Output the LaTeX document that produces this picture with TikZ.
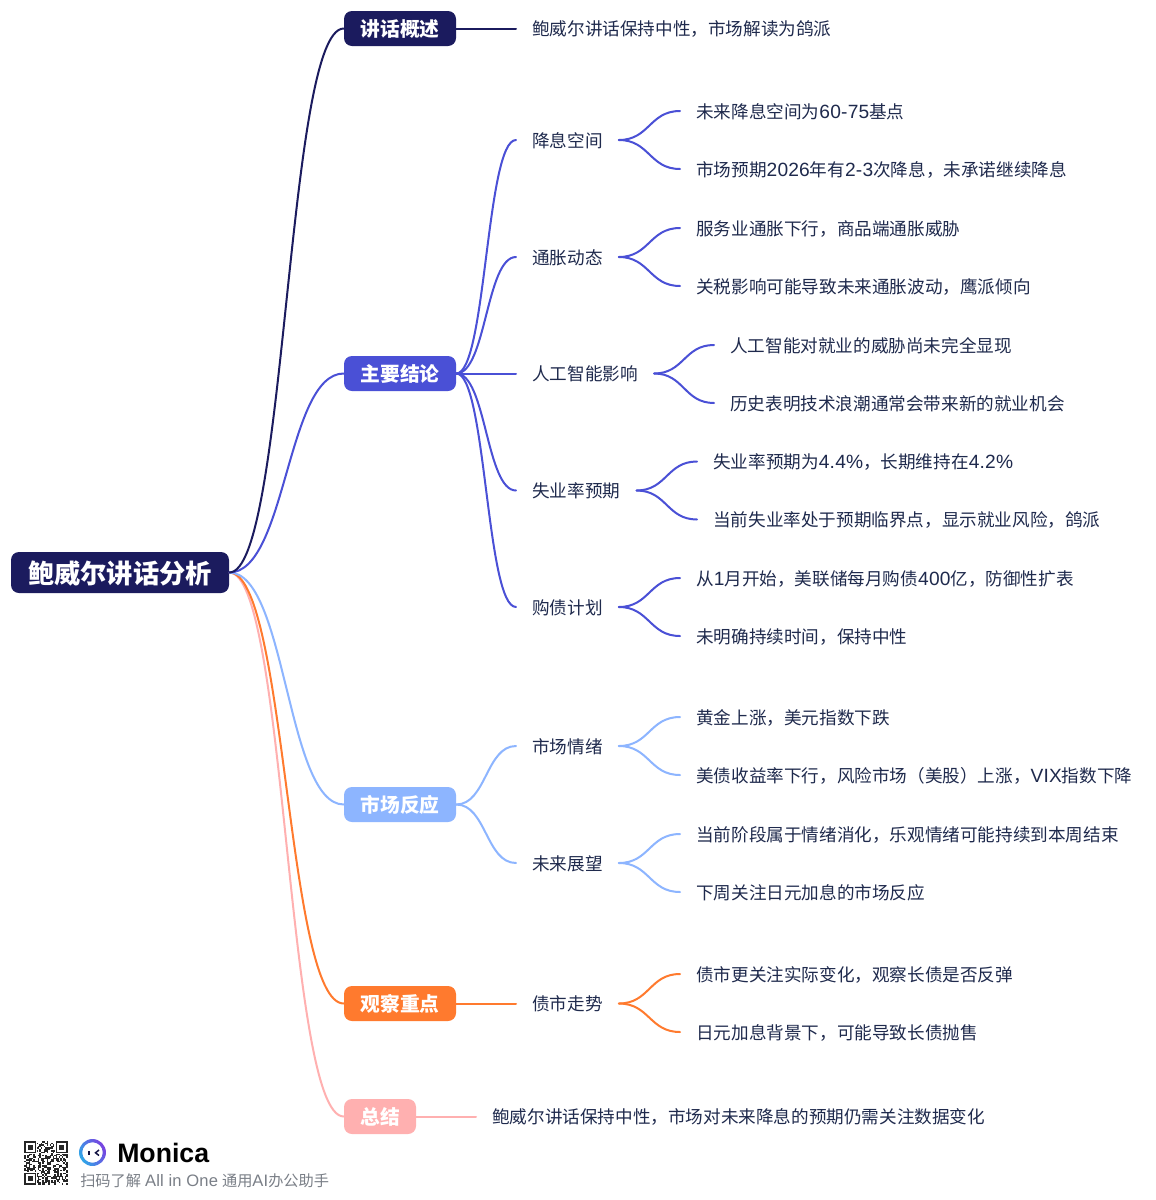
\documentclass[tikz,border=0pt]{standalone}
\usepackage{fontspec}
\usetikzlibrary{calc}
\setmainfont{Noto Sans CJK SC}
\newfontfamily\monfont{Liberation Sans}
\newfontfamily\latf[Scale=1.09,LetterSpace=1]{Liberation Sans}
\newcommand{\lat}[1]{{\latf #1}}
\definecolor{cnavy}{HTML}{1B1B5E}
\definecolor{cindigo}{HTML}{4A50D6}
\definecolor{cblue}{HTML}{8DB5FF}
\definecolor{corange}{HTML}{FF7A2E}
\definecolor{cpink}{HTML}{FFB0B0}
\definecolor{ctext}{HTML}{1F2A4D}
\definecolor{cgray}{HTML}{7A7F87}
\definecolor{cviolet}{HTML}{7A3FE0}
\definecolor{ccyan}{HTML}{2FA8E8}
\pgfmathsetseed{4217}
\tikzset{
  x=0.75pt,y=-0.75pt,
  rootbox/.style={rounded corners=6pt,fill=cnavy,text=white,font=\fontsize{19.7pt}{24pt}\bfseries,minimum width=163.5pt,minimum height=30.75pt,inner sep=0pt,text height=17.4pt,text depth=1pt},
  secbox/.style={rounded corners=6pt,text=white,font=\fontsize{14.8pt}{18pt}\bfseries,minimum width=84pt,minimum height=26.25pt,inner sep=0pt,text height=13.2pt,text depth=0.5pt},
  lbl/.style={anchor=west,text=ctext,font=\fontsize{13.2pt}{16pt}\selectfont,inner xsep=12pt,inner ysep=0pt,text height=12.1pt,text depth=1.1pt},
  link/.style={line width=1.5pt,line cap=round},
}
\newcommand{\mmlink}[3]{%
  \draw[link,#1] (#2) .. controls ($(#2)!0.5!(#3 |- #2)$) and ($(#3)!0.5!(#2 |- #3)$) .. (#3);}
\begin{document}
\begin{tikzpicture}
\useasboundingbox (0,0) rectangle (1156,1200);
\fill[white] (0,0) rectangle (1156,1200);

\node[rootbox] (root) at (120,572.5) {鲍威尔讲话分析};
\node[secbox,fill=cnavy] (s1) at (400,28.5) {讲话概述};
\node[secbox,fill=cindigo] (s2) at (400,373.5) {主要结论};
\node[secbox,fill=cblue] (s3) at (400,804.5) {市场反应};
\node[secbox,fill=corange] (s4) at (400,1003.5) {观察重点};
\node[secbox,fill=cpink,minimum width=54pt] (s5) at (380,1116.5) {总结};

\node[lbl] (a0) at (516,28.5) {鲍威尔讲话保持中性，市场解读为鸽派};

\node[lbl] (b1) at (516,140) {降息空间};
\node[lbl] (b1a) at (680,111) {未来降息空间为\lat{60-75}基点};
\node[lbl] (b1b) at (680,169) {市场预期\lat{2026}年有\lat{2-3}次降息，未承诺继续降息};
\node[lbl] (b2) at (516,257) {通胀动态};
\node[lbl] (b2a) at (680,228) {服务业通胀下行，商品端通胀威胁};
\node[lbl] (b2b) at (680,286) {关税影响可能导致未来通胀波动，鹰派倾向};
\node[lbl] (b3) at (516,373.5) {人工智能影响};
\node[lbl] (b3a) at (714,345) {人工智能对就业的威胁尚未完全显现};
\node[lbl] (b3b) at (714,403) {历史表明技术浪潮通常会带来新的就业机会};
\node[lbl] (b4) at (516,490.5) {失业率预期};
\node[lbl] (b4a) at (697,461.5) {失业率预期为\lat{4.4\%}，长期维持在\lat{4.2\%}};
\node[lbl] (b4b) at (697,519.5) {当前失业率处于预期临界点，显示就业风险，鸽派};
\node[lbl] (b5) at (516,607) {购债计划};
\node[lbl] (b5a) at (680,578) {从\lat{1}月开始，美联储每月购债\lat{400}亿，防御性扩表};
\node[lbl] (b5b) at (680,636) {未明确持续时间，保持中性};

\node[lbl] (c1) at (516,746) {市场情绪};
\node[lbl] (c1a) at (680,717) {黄金上涨，美元指数下跌};
\node[lbl] (c1b) at (680,775) {美债收益率下行，风险市场（美股）上涨，\lat{VIX}指数下降};
\node[lbl] (c2) at (516,863) {未来展望};
\node[lbl] (c2a) at (680,834) {当前阶段属于情绪消化，乐观情绪可能持续到本周结束};
\node[lbl] (c2b) at (680,892) {下周关注日元加息的市场反应};

\node[lbl] (d1) at (516,1003.5) {债市走势};
\node[lbl] (d1a) at (680,974) {债市更关注实际变化，观察长债是否反弹};
\node[lbl] (d1b) at (680,1032) {日元加息背景下，可能导致长债抛售};

\node[lbl] (e1) at (476,1116.5) {鲍威尔讲话保持中性，市场对未来降息的预期仍需关注数据变化};

\mmlink{cpink}{root.east}{s5.west}
\mmlink{corange}{root.east}{s4.west}
\mmlink{cblue}{root.east}{s3.west}
\mmlink{cindigo}{root.east}{s2.west}
\mmlink{cnavy}{root.east}{s1.west}

\draw[link,cnavy] (s1.east) -- (a0.west);
\foreach \t in {b1,b2,b3,b4,b5} {\mmlink{cindigo}{s2.east}{\t.west}}
\foreach \p/\t in {b1/b1a,b1/b1b,b2/b2a,b2/b2b,b3/b3a,b3/b3b,b4/b4a,b4/b4b,b5/b5a,b5/b5b} {\mmlink{cindigo}{\p.east}{\t.west}}
\foreach \t in {c1,c2} {\mmlink{cblue}{s3.east}{\t.west}}
\foreach \p/\t in {c1/c1a,c1/c1b,c2/c2a,c2/c2b} {\mmlink{cblue}{\p.east}{\t.west}}
\draw[link,corange] (s4.east) -- (d1.west);
\foreach \t in {d1a,d1b} {\mmlink{corange}{d1.east}{\t.west}}
\draw[link,cpink] (s5.east) -- (e1.west);

% footer: QR pattern
\foreach \i in {0,...,28} {\foreach \j in {0,...,28} {
  \pgfmathrandominteger{\r}{0}{99}
  \ifnum\r<50
    \fill[black!85] ({24+\i*1.5},{1141+\j*1.5}) rectangle ++(1.5,1.5);
  \fi
}}
\foreach \cx/\cy in {24/1141,55.5/1141,24/1172.5} {
  \fill[white] ({\cx-1},{\cy-1}) rectangle ++(14,14);
  \fill[black!85] (\cx,\cy) rectangle ++(12,12);
  \fill[white] ({\cx+1.5},{\cy+1.5}) rectangle ++(9,9);
  \fill[black!85] ({\cx+3.5},{\cy+3.5}) rectangle ++(5,5);
}
\shade[even odd rule,left color=cviolet,right color=ccyan,shading angle=-60]
  (92.5,1152.5) circle[radius=10.1pt] (92.5,1152.5) circle[radius=7.7pt];
\fill[cnavy!70!black] (87.5,1150.5) rectangle (89.5,1155);
\draw[cnavy!70!black,line width=1.1pt] (99,1150) -- (95.5,1152.8) -- (99,1155.5);

\node[anchor=west,inner sep=0pt,font=\fontsize{20pt}{24pt}\monfont\bfseries] (mon) at (117,1152.5) {Monica};
\node[anchor=west,inner sep=0pt,text=cgray,font=\fontsize{11.4pt}{14pt}\selectfont] (cap) at (80,1181) {扫码了解\hspace{3pt}\lat{All in One}\hspace{3pt}通用\lat{AI}办公助手};
\end{tikzpicture}
\end{document}
